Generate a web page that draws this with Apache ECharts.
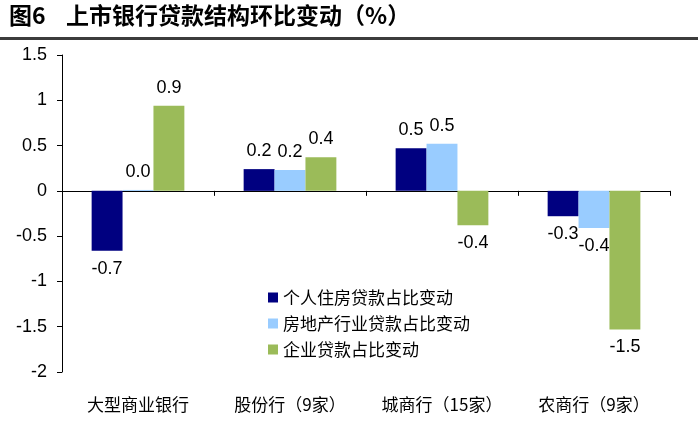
<!DOCTYPE html>
<html><head><meta charset="utf-8">
<script src="https://cdn.jsdelivr.net/npm/echarts@6/dist/echarts.min.js"></script>
<style>html,body{margin:0;padding:0;background:#fff}#c{width:698px;height:424px}</style>
</head><body><div id="c"></div>
<script>
const categories = ['大型商业银行', '股份行（9家）', '城商行（15家）', '农商行（9家）'];
const seriesNames = ['个人住房贷款占比变动', '房地产行业贷款占比变动', '企业贷款占比变动'];
const housingLoan = [-0.66, 0.24, 0.47, -0.28];
const realEstateLoan = [0.01, 0.23, 0.52, -0.41];
const corporateLoan = [0.94, 0.37, -0.38, -1.53];
const seriesValues = [housingLoan, realEstateLoan, corporateLoan];
const colors = ['#000080', '#99CCFF', '#9BBB59'];
const titleNum = '图6';
const titleText = '上市银行贷款结构环比变动（%）';

const cjk = '"Noto Sans CJK SC", sans-serif';
const latin = '"Liberation Sans", Arial, sans-serif';

const chart = echarts.init(document.getElementById('c'), null, {renderer: 'canvas'});

const series = seriesValues.map((vals, i) => ({
  name: seriesNames[i],
  type: 'bar',
  barGap: '0%',
  barCategoryGap: '39%',
  itemStyle: {color: colors[i]},
  label: {
    show: true,
    distance: 9,
    fontFamily: latin,
    fontSize: 18,
    color: '#000',
    formatter: p => Number(p.value).toFixed(1)
  },
  data: vals.map(v => ({value: v, label: {position: v >= 0 ? 'top' : 'bottom'}}))
}));

chart.setOption({
  animation: false,
  backgroundColor: '#fff',
  graphic: [
    {type: 'text', left: 9, top: 4, style: {text: titleNum, font: 'bold 23px ' + cjk, fill: '#000'}},
    {type: 'text', left: 66, top: 4, style: {text: titleText, font: 'bold 23px ' + cjk, fill: '#000'}},
    {type: 'rect', shape: {x: 0, y: 37, width: 698, height: 3}, style: {fill: '#3c3c3c'}}
  ],
  legend: {
    orient: 'vertical',
    left: 263,
    top: 284,
    icon: 'rect',
    itemWidth: 10,
    itemHeight: 10,
    itemGap: 9,
    textStyle: {fontFamily: cjk, fontSize: 17, color: '#000', lineHeight: 17},
    data: seriesNames
  },
  grid: {left: 62, right: 28, top: 55, bottom: 52, containLabel: false, outerBoundsMode: 'none'},
  xAxis: {
    type: 'category', data: categories, position: 'bottom',
    axisLine: {show: true, onZero: true, lineStyle: {color: '#000', width: 1}},
    axisTick: {show: true, length: 5, lineStyle: {color: '#000'}},
    axisLabel: {interval: 0, margin: 24, fontFamily: cjk, fontSize: 17, color: '#000'}
  },
  yAxis: {
    type: 'value', min: -2, max: 1.5, interval: 0.5,
    axisLine: {show: true, lineStyle: {color: '#000', width: 1}},
    axisTick: {show: true, length: 5, lineStyle: {color: '#000'}},
    splitLine: {show: false},
    axisLabel: {margin: 15, fontFamily: latin, fontSize: 18, color: '#000'}
  },
  series: series
});
</script>
</body></html>
